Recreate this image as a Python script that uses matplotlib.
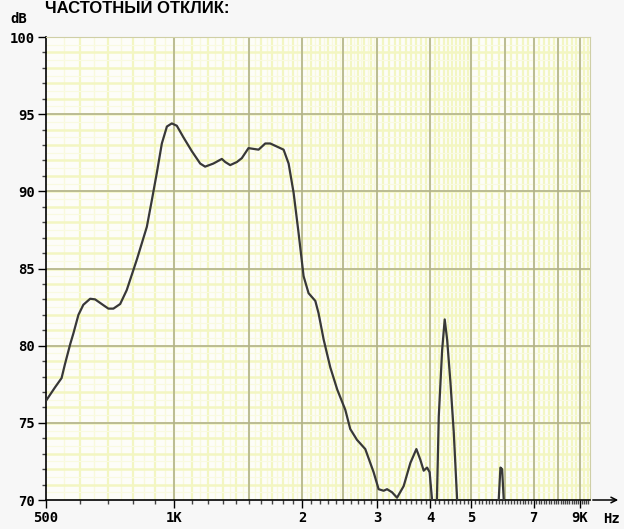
import matplotlib.pyplot as plt
import numpy as np
from matplotlib.ticker import FixedLocator, NullFormatter

# frequency response (Hz, dB)
freq = [502, 525, 544, 554, 570, 580, 596, 612, 635, 652, 664, 684, 701, 720, 747,
        774, 818, 863, 887, 911, 936, 962, 988, 1015, 1052, 1101, 1152, 1183, 1237,
        1295, 1319, 1355, 1405, 1443, 1496, 1580, 1638, 1683, 1745, 1809, 1859, 1910,
        1962, 2016, 2071, 2148, 2186, 2247, 2329, 2419, 2526, 2595, 2691, 2815, 2945,
        3026, 3109, 3167, 3254, 3343, 3465, 3593, 3712, 3793, 3862, 3933, 3988, 4041,
        4070, 4115, 4148, 4190, 4267, 4327, 4384, 4464, 4544, 4628, 4662, 5756, 5796,
        5850, 5904, 5956, 6010]
db = [76.5, 77.3, 77.9, 78.8, 80.1, 80.8, 82.0, 82.65, 83.04, 83.0, 82.85, 82.6, 82.4,
      82.4, 82.7, 83.6, 85.6, 87.7, 89.45, 91.2, 93.1, 94.2, 94.4, 94.25, 93.5, 92.6,
      91.8, 91.6, 91.8, 92.1, 91.9, 91.7, 91.9, 92.15, 92.8, 92.7, 93.1, 93.1, 92.9,
      92.7, 91.8, 89.9, 87.3, 84.5, 83.4, 82.9, 82.1, 80.4, 78.6, 77.15, 75.85, 74.6,
      73.9, 73.3, 71.8, 70.7, 70.6, 70.7, 70.5, 70.15, 70.9, 72.4, 73.3, 72.6, 71.9,
      72.1, 71.8, 70.0, 67.4, 67.4, 70.0, 75.4, 79.7, 81.7, 80.4, 77.6, 74.4, 70.0,
      67.4, 67.4, 70.0, 72.1, 72.0, 70.0, 67.4]

xtick_pos = [500, 1000, 2000, 3000, 4000, 5000, 7000, 9000]
xtick_lab = ['500', '1K', '2', '3', '4', '5', '7', '9K']
major_f = [1000, 1500, 2000, 2500, 3000, 4000, 5000, 6000, 7000, 8000, 9000]
ytick_pos = [70, 75, 80, 85, 90, 95, 100]

plt.rcParams['font.family'] = ['DejaVu Sans Mono']

fig = plt.figure(figsize=(6.24, 5.29), dpi=100, facecolor='#f7f7f7')
ax = fig.add_axes([46/624, 1-500/529, 544/624, 463/529])
ax.set_xscale('log')
ax.set_xlim(500, 9500)
ax.set_ylim(70, 100)
ax.set_facecolor('#fdfdf8')

# yellow paper grid
minor_f = list(range(550, 3000, 50)) + list(range(3000, 5000, 100)) + list(range(5000, 9500, 200))
for f in minor_f:
    if f % 100 == 0:
        ax.axvline(f, color='#f3f6c2', lw=1.6, zorder=0)
    else:
        ax.axvline(f, color='#f8f9dc', lw=1.0, zorder=0)
for y in range(71, 100):
    ax.axhline(y, color='#f3f6c2', lw=1.8, zorder=0)
for y in np.arange(70.5, 100, 1.0):
    ax.axhline(y, color='#f9fae0', lw=0.8, zorder=0)
for f in major_f:
    ax.axvline(f, color='#b2b28a', lw=1.2, zorder=1)
for y in ytick_pos[1:-1]:
    ax.axhline(y, color='#b2b28a', lw=1.2, zorder=1)
ax.axhline(100, color='#d4d4a8', lw=1.2, zorder=1)

ax.plot(freq, db, color='#383838', lw=1.6, zorder=3)

for s in ['top', 'right']:
    ax.spines[s].set_color('#cfcfa6')
for s in ['left', 'bottom']:
    ax.spines[s].set_color('black')
    ax.spines[s].set_linewidth(1.2)

ax.xaxis.set_major_locator(FixedLocator(xtick_pos))
ax.set_xticklabels(xtick_lab)
ax.xaxis.set_minor_locator(FixedLocator(range(600, 9500, 100)))
ax.xaxis.set_minor_formatter(NullFormatter())
ax.yaxis.set_major_locator(FixedLocator(ytick_pos))
ax.yaxis.set_minor_locator(FixedLocator(range(70, 101)))
ax.tick_params(which='major', direction='out', length=6, width=1, pad=2,
               labelsize=10, colors='black')
ax.tick_params(which='minor', direction='out', length=3, width=1, colors='#444444')
for lab in ax.get_xticklabels() + ax.get_yticklabels():
    lab.set_fontweight('bold')

# axis arrow past the grid
ax.annotate('', xy=(621/624, 1-500/529), xycoords='figure fraction',
            xytext=(1, 0), textcoords='axes fraction',
            arrowprops=dict(arrowstyle='->', color='black', lw=1.1),
            annotation_clip=False)

fig.text(612/624, 1-519/529, 'Hz', ha='center', va='center', fontsize=10, fontweight='bold')
fig.text(19/624, 1-19/529, 'dB', ha='center', va='center', fontsize=10, fontweight='bold')
fig.text(45/624, 1-13/529, 'ЧАСТОТНЫЙ ОТКЛИК:', ha='left', va='baseline',
         fontsize=12, fontweight='bold', family=['Liberation Sans', 'DejaVu Sans'])

fig.savefig('out.png', dpi=100, facecolor=fig.get_facecolor())
